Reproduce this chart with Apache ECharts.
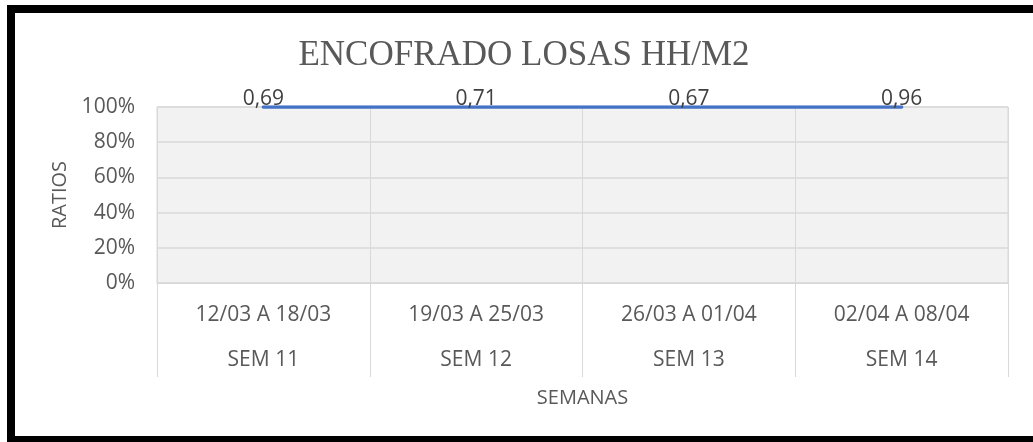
<!DOCTYPE html>
<html>
<head>
<meta charset="utf-8">
<script src="https://cdn.jsdelivr.net/npm/echarts@6/dist/echarts.min.js"></script>
<style>
html,body{margin:0;padding:0;background:#fff;}
#chart{width:1033px;height:442px;}
</style>
</head>
<body>
<div id="chart"></div>
<script>
const weekRanges = ['12/03 A 18/03', '19/03 A 25/03', '26/03 A 01/04', '02/04 A 08/04'];
const weekNames = ['SEM 11', 'SEM 12', 'SEM 13', 'SEM 14'];
const ratios = [0.69, 0.71, 0.67, 0.96];
// 100% stacked line: each point sits at 100% of its stack
const stackShare = [1, 1, 1, 1];
const yTicks = [0, 0.2, 0.4, 0.6, 0.8, 1];

const sans = '"Open Sans", "Noto Sans", sans-serif';
const chart = echarts.init(document.getElementById('chart'));
chart.setOption({
  animation: false,
  backgroundColor: '#fff',
  title: {
    text: 'ENCOFRADO LOSAS HH/M2',
    left: 519, top: 33, textAlign: 'center',
    textStyle: { fontFamily: '"Liberation Serif", "DejaVu Serif", serif', fontSize: 35, fontWeight: 'normal', color: '#595959' }
  },
  graphic: [{
    type: 'rect', silent: true,
    shape: { x: 11, y: 9, width: 1100, height: 431 },
    style: { fill: 'none', stroke: '#000', lineWidth: 8 }
  }],
  grid: {
    left: 157, right: 25, top: 107, bottom: 159,
    show: true, backgroundColor: '#f2f2f2', borderColor: '#d9d9d9', borderWidth: 1
  },
  xAxis: [{
    type: 'category', data: weekRanges, position: 'bottom',
    axisLine: { lineStyle: { color: '#d9d9d9', width: 1 } },
    axisTick: { show: true, interval: 0, length: 94, lineStyle: { color: '#d9d9d9', width: 1 } },
    splitLine: { show: true, interval: 0, lineStyle: { color: '#d9d9d9', width: 1 } },
    axisLabel: { interval: 0, margin: 22, color: '#595959', fontSize: 21, fontFamily: sans },
    name: 'SEMANAS', nameLocation: 'middle', nameGap: 105,
    nameTextStyle: { color: '#595959', fontSize: 20, fontFamily: sans }
  }, {
    type: 'category', data: weekNames, position: 'bottom',
    axisLine: { show: false }, axisTick: { show: false }, splitLine: { show: false },
    axisLabel: { interval: 0, margin: 67, color: '#595959', fontSize: 21, fontFamily: sans }
  }],
  yAxis: {
    type: 'value', min: 0, max: 1, interval: 0.2,
    axisLine: { show: false }, axisTick: { show: false },
    splitLine: { show: true, lineStyle: { color: '#d9d9d9', width: 1.5 } },
    axisLabel: {
      margin: 22, color: '#595959', fontSize: 21, fontFamily: sans,
      formatter: v => Math.round(v * 100) + '%'
    },
    name: 'RATIOS', nameLocation: 'middle', nameGap: 87, nameRotate: 90,
    nameTextStyle: { color: '#595959', fontSize: 20, fontFamily: sans }
  },
  series: [{
    type: 'line', name: 'RATIO', stack: 'total',
    data: stackShare,
    symbol: 'circle', symbolSize: 1, showSymbol: true,
    itemStyle: { color: '#4472c4' },
    lineStyle: { color: '#4472c4', width: 3.5, cap: 'round' },
    label: {
      show: true, position: 'top', distance: -3,
      color: '#404040', fontSize: 21, fontFamily: sans,
      formatter: p => ratios[p.dataIndex].toFixed(2).replace('.', ',')
    }
  }]
});
</script>
</body>
</html>
